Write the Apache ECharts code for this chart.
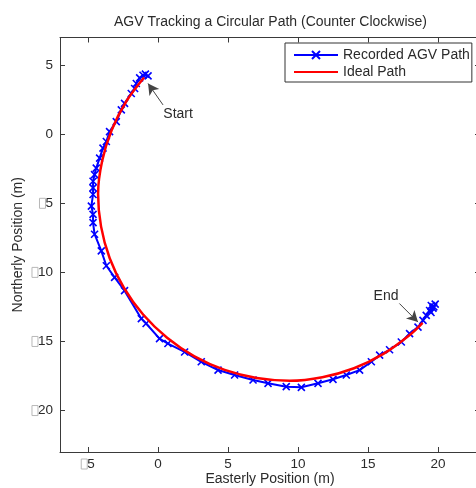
<!DOCTYPE html>
<html><head><meta charset="utf-8">
<script src="https://cdn.jsdelivr.net/npm/echarts@6/dist/echarts.min.js"></script>
<style>html,body{margin:0;padding:0;background:#fff}#c{width:476px;height:488px}</style>
</head><body><div id="c"></div>
<script>
const titleText = 'AGV Tracking a Circular Path (Counter Clockwise)';
const xName = 'Easterly Position (m)';
const yName = 'Northerly Position (m)';
const seriesNames = ['Recorded AGV Path', 'Ideal Path'];
const xTicks = [-5, 0, 5, 10, 15, 20];
const yTicks = [5, 0, -5, -10, -15, -20];
const xRange = [-7, 23];
const yRange = [-23, 7];

const recordedX = [-0.71, -1.07, -0.9, -1.31, -1.55, -1.67, -1.91, -2.39, -2.62, -2.98, -3.46, -3.69, -3.93, -4.17, -4.41, -4.53, -4.64, -4.64, -4.64, -4.76, -4.64, -4.64, -4.53, -4.05, -3.69, -3.10, -2.39, -1.19, -0.85, 0.11, 0.71, 1.90, 3.09, 4.29, 5.47, 6.79, 7.86, 9.16, 10.24, 11.43, 12.5, 13.45, 14.4, 15.24, 15.83, 16.54, 17.38, 17.97, 18.57, 18.93, 19.16, 19.4, 19.52, 19.64, 19.8, 19.5, 19.7];
const recordedY = [4.22, 4.27, 4.35, 4.08, 3.67, 3.31, 2.95, 2.23, 1.76, 0.91, 0.19, -0.53, -1.01, -1.73, -2.45, -2.92, -3.40, -3.88, -4.36, -5.20, -5.80, -6.40, -7.24, -8.44, -9.52, -10.36, -11.32, -13.35, -13.7, -14.79, -15.15, -15.76, -16.47, -17.07, -17.43, -17.79, -18.03, -18.27, -18.32, -18.03, -17.74, -17.43, -17.07, -16.47, -15.99, -15.6, -15.04, -14.43, -13.96, -13.47, -13.11, -12.76, -12.4, -12.6, -12.3, -12.9, -12.5];

const idealX = [-0.99, -2.24, -3.30, -3.99, -4.28, -4.07, -3.45, -2.43, -1.05, 0.65, 2.60, 4.76, 7.05, 9.40, 11.74, 14.00, 16.10, 17.98, 18.90];
const idealY = [4.11, 2.42, 0.32, -1.94, -4.30, -6.67, -8.98, -11.13, -13.07, -14.73, -16.08, -17.06, -17.65, -17.85, -17.59, -16.94, -15.90, -14.53, -13.65];

const annoText = ['Start', 'End'];
const annoTextAt = [[0.38, 1.48], [15.4, -11.7]];
const annoArrowFrom = [[0.36, 2.12], [17.24, -12.25]];
const annoArrowTo = [[-0.71, 3.67], [18.57, -13.6]];

const FONT = '"Liberation Sans", Arial, Helvetica, sans-serif';
const TXT = '#2b2b2b';
const AX = '#3a3a3a';
const FS = 14;
const xSym = 'path://M0,0L10,10M10,0L0,10';

const pairs = (xs, ys) => xs.map((x, i) => [x, ys[i]]);
const negFmt = v => v < 0 ? '{b| }' + Math.abs(v) : String(v);
const rich = { b: { width: 6, height: 10, borderColor: '#b8b8b8', borderWidth: 1, padding: 0 } };

const chart = echarts.init(document.getElementById('c'), null, { renderer: 'canvas' });
const baseAxis = (isX, range, ticks, pos, show) => ({
  type: 'value', min: range[0], max: range[1], position: pos,
  axisLine: { show: true, onZero: false, lineStyle: { color: AX, width: 1 } },
  axisTick: { show: true, inside: true, length: 5, customValues: ticks, lineStyle: { color: AX } },
  axisLabel: show ? { show: true, customValues: ticks, formatter: negFmt, rich: rich, color: TXT, fontFamily: FONT, fontSize: 13.5, margin: isX ? 5 : 7 } : { show: false },
  splitLine: { show: false }
});

const xMain = Object.assign(baseAxis(true, xRange, xTicks, 'bottom', true), {
  name: xName, nameLocation: 'middle', nameGap: 20, nameMoveOverlap: false,
  nameTextStyle: { color: TXT, fontFamily: FONT, fontSize: FS }
});
const yMain = Object.assign(baseAxis(false, yRange, yTicks, 'left', true), {
  name: yName, nameLocation: 'middle', nameGap: 35, nameMoveOverlap: false,
  nameTextStyle: { color: TXT, fontFamily: FONT, fontSize: FS }
});

chart.setOption({
  animation: false,
  title: { text: titleText, left: 109, top: 10, textStyle: { color: TXT, fontFamily: FONT, fontSize: FS, fontWeight: 'normal' } },
  grid: { left: 60, top: 37.5, width: 420, height: 414.5, containLabel: false, outerBoundsMode: 'none' },
  legend: {
    orient: 'vertical', left: 285, top: 43, data: [
      { name: seriesNames[0] },
      { name: seriesNames[1], itemStyle: { opacity: 0 } }
    ],
    itemWidth: 44, itemHeight: 10, itemGap: 3,
    padding: [5, 2, 3, 8],
    borderColor: '#333', borderWidth: 1, backgroundColor: '#fff',
    textStyle: { color: TXT, fontFamily: FONT, fontSize: FS }
  },
  xAxis: [xMain, baseAxis(true, xRange, xTicks, 'top', false)],
  yAxis: [yMain, baseAxis(false, yRange, yTicks, 'right', false)],
  series: [
    {
      name: seriesNames[0], type: 'line', data: pairs(recordedX, recordedY),
      symbol: xSym, symbolSize: 7, showAllSymbol: true,
      lineStyle: { color: '#0000ff', width: 2 },
      itemStyle: { color: '#0000ff', borderColor: '#0000ff', borderWidth: 1.6 },
      z: 2
    },
    {
      name: seriesNames[1], type: 'line', data: pairs(idealX, idealY),
      symbol: 'none', smooth: 0.35,
      lineStyle: { color: '#ff0000', width: 2.5 },
      itemStyle: { color: '#ff0000' },
      z: 3,
      markLine: {
        silent: true, symbol: ['none', 'arrow'], symbolSize: [9, 11],
        lineStyle: { color: '#444', width: 1, type: 'solid' },
        label: { show: false },
        data: annoArrowFrom.map((f, i) => [{ coord: f }, { coord: annoArrowTo[i] }])
      },
      markPoint: {
        silent: true, symbol: 'circle', symbolSize: 0,
        data: annoText.map((t, i) => ({
          coord: annoTextAt[i],
          label: { show: true, position: 'right', distance: 0, formatter: t, color: TXT, fontFamily: FONT, fontSize: FS }
        }))
      }
    }
  ]
});
</script></body></html>
